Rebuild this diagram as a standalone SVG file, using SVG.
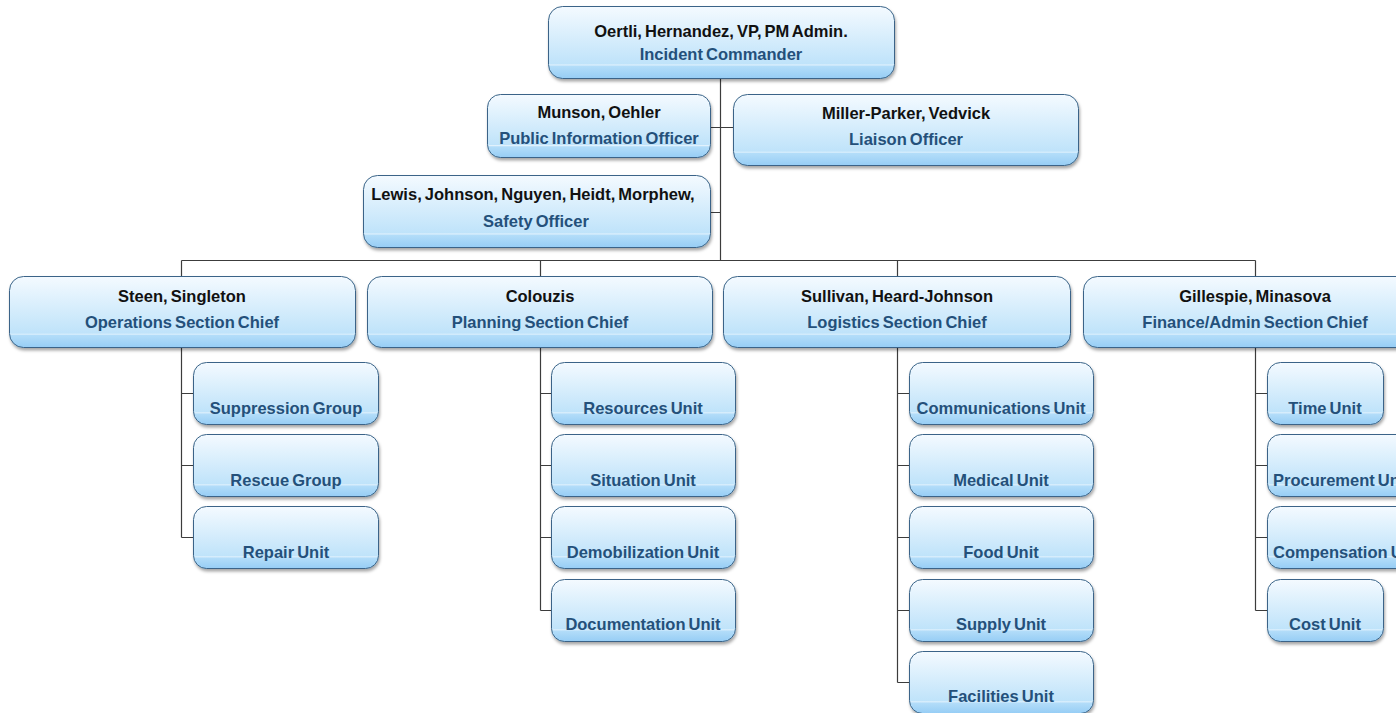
<svg xmlns="http://www.w3.org/2000/svg" width="1396" height="713" viewBox="0 0 1396 713">
<defs>
<linearGradient id="g" x1="0" y1="0" x2="0" y2="1">
<stop offset="0" stop-color="#f4faff"/>
<stop offset="0.45" stop-color="#d6edfc"/>
<stop offset="0.8" stop-color="#bfe3fa"/>
<stop offset="0.81" stop-color="#e2f2fd"/>
<stop offset="0.83" stop-color="#b3ddf9"/>
<stop offset="1" stop-color="#96cdf5"/>
</linearGradient>
<filter id="sh" x="-5%" y="-10%" width="110%" height="130%">
<feDropShadow dx="1" dy="2.5" stdDeviation="1.5" flood-color="#000" flood-opacity="0.35"/>
</filter>
</defs>
<style>
.b{fill:url(#g);stroke:#3a6488;stroke-width:1;filter:url(#sh)}
.n{font-family:"Liberation Sans",Arial,sans-serif;font-weight:bold;font-size:16.5px;fill:#111;text-anchor:middle;word-spacing:-1.5px}
.r{font-family:"Liberation Sans",Arial,sans-serif;font-weight:bold;font-size:16.5px;fill:#24507a;text-anchor:middle;word-spacing:-1.5px}
.s{text-anchor:start}
.c{stroke:#3c3c3c;stroke-width:1.2;fill:none}
</style>
<rect width="1396" height="713" fill="#fff"/>
<g id="connectors">
<path class="c" d="M720.5 78V260.5M710 127.5H733M710 212.5H720.5M181.5 260.5H1255.5M181.5 260.5V276M540.5 260.5V276M897.5 260.5V276M1255.5 260.5V276"/>
<path class="c" d="M181.5 347V537.5M181.5 393.5H193M181.5 465.5H193M181.5 537.5H193"/>
<path class="c" d="M540.5 347V610.5M540.5 393.5H551M540.5 465.5H551M540.5 537.5H551M540.5 610.5H551"/>
<path class="c" d="M897.5 347V682.5M897.5 393.5H909M897.5 465.5H909M897.5 537.5H909M897.5 610.5H909M897.5 682.5H909"/>
<path class="c" d="M1255.5 347V610.5M1255.5 393.5H1267M1255.5 465.5H1267M1255.5 537.5H1267M1255.5 610.5H1267"/>
</g>
<g id="ic"><rect class="b" x="548.5" y="6.5" width="346" height="72" rx="14"/><text class="n" x="721" y="37">Oertli, Hernandez, VP, PM Admin.</text><text class="r" x="721" y="60">Incident Commander</text></g>
<g id="pio"><rect class="b" x="487.5" y="94.5" width="223" height="63" rx="13"/><text class="n" x="599" y="118">Munson, Oehler</text><text class="r" x="599" y="144">Public Information Officer</text></g>
<g id="lo"><rect class="b" x="733.5" y="94.5" width="345" height="71" rx="14"/><text class="n" x="906" y="119">Miller-Parker, Vedvick</text><text class="r" x="906" y="145">Liaison Officer</text></g>
<g id="so"><rect class="b" x="363.5" y="175.5" width="347" height="72" rx="14"/><text class="n" x="533" y="200">Lewis, Johnson, Nguyen, Heidt, Morphew,</text><text class="r" x="536" y="227">Safety Officer</text></g>
<g id="ops"><rect class="b" x="9.5" y="276.5" width="346" height="71" rx="14"/><text class="n" x="182" y="302">Steen,  Singleton</text><text class="r" x="182" y="328">Operations Section Chief</text></g>
<g id="plan"><rect class="b" x="367.5" y="276.5" width="345" height="71" rx="14"/><text class="n" x="540" y="302">Colouzis</text><text class="r" x="540" y="328">Planning Section Chief</text></g>
<g id="log"><rect class="b" x="723.5" y="276.5" width="347" height="71" rx="14"/><text class="n" x="897" y="302">Sullivan, Heard-Johnson</text><text class="r" x="897" y="328">Logistics Section Chief</text></g>
<g id="fin"><rect class="b" x="1083.5" y="276.5" width="346" height="71" rx="14"/><text class="n" x="1255" y="302">Gillespie, Minasova</text><text class="r" x="1255" y="328">Finance/Admin Section Chief</text></g>
<g id="sup"><rect class="b" x="193.5" y="362.5" width="185" height="62" rx="13"/><text class="r" x="286" y="414">Suppression Group</text></g>
<g id="res"><rect class="b" x="193.5" y="434.5" width="185" height="62" rx="13"/><text class="r" x="286" y="486">Rescue Group</text></g>
<g id="rep"><rect class="b" x="193.5" y="506.5" width="185" height="62" rx="13"/><text class="r" x="286" y="558">Repair Unit</text></g>
<g id="resu"><rect class="b" x="551.5" y="362.5" width="184" height="62" rx="13"/><text class="r" x="643" y="414">Resources Unit</text></g>
<g id="sit"><rect class="b" x="551.5" y="434.5" width="184" height="62" rx="13"/><text class="r" x="643" y="486">Situation Unit</text></g>
<g id="demob"><rect class="b" x="551.5" y="506.5" width="184" height="62" rx="13"/><text class="r" x="643" y="558">Demobilization Unit</text></g>
<g id="doc"><rect class="b" x="551.5" y="579.5" width="184" height="62" rx="13"/><text class="r" x="643" y="630">Documentation Unit</text></g>
<g id="comm"><rect class="b" x="909.5" y="362.5" width="184" height="62" rx="13"/><text class="r" x="1001" y="414">Communications Unit</text></g>
<g id="med"><rect class="b" x="909.5" y="434.5" width="184" height="62" rx="13"/><text class="r" x="1001" y="486">Medical Unit</text></g>
<g id="food"><rect class="b" x="909.5" y="506.5" width="184" height="62" rx="13"/><text class="r" x="1001" y="558">Food Unit</text></g>
<g id="supply"><rect class="b" x="909.5" y="579.5" width="184" height="62" rx="13"/><text class="r" x="1001" y="630">Supply Unit</text></g>
<g id="fac"><rect class="b" x="909.5" y="651.5" width="184" height="62" rx="13"/><text class="r" x="1001" y="702">Facilities Unit</text></g>
<g id="time"><rect class="b" x="1267.5" y="362.5" width="116" height="62" rx="13"/><text class="r" x="1325" y="414">Time Unit</text></g>
<g id="proc"><rect class="b" x="1267.5" y="434.5" width="160" height="62" rx="13"/><text class="r s" x="1273" y="486">Procurement Unit</text></g>
<g id="comp"><rect class="b" x="1267.5" y="506.5" width="160" height="62" rx="13"/><text class="r s" x="1273" y="558">Compensation Unit</text></g>
<g id="cost"><rect class="b" x="1267.5" y="579.5" width="116" height="62" rx="13"/><text class="r" x="1325" y="630">Cost Unit</text></g>
</svg>
